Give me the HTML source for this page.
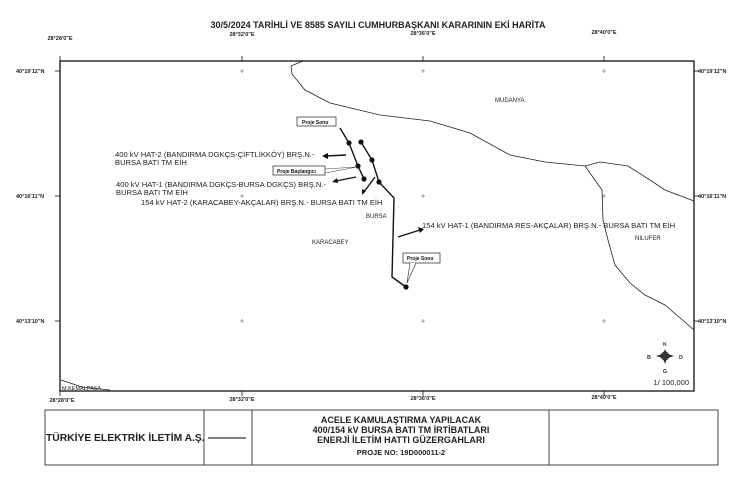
<!DOCTYPE html>
<html><head><meta charset="utf-8"><style>
body{margin:0;background:#fff;}
svg{display:block;font-family:"Liberation Sans",sans-serif;}
</style></head><body>
<svg width="750" height="478" viewBox="0 0 750 478" xmlns="http://www.w3.org/2000/svg">
<rect width="750" height="478" fill="#fff"/>
<text x="378" y="28" font-size="9" font-weight="bold" text-anchor="middle" fill="#222">30/5/2024 TARİHLİ VE 8585 SAYILI CUMHURBAŞKANI KARARININ EKİ HARİTA</text>
<g font-size="5.5" fill="#222" font-weight="bold" text-anchor="middle">
<text x="60" y="40">28°28'0"E</text><text x="242" y="36">28°32'0"E</text><text x="423" y="35">28°36'0"E</text><text x="604" y="34">28°40'0"E</text>
<text x="62" y="402">28°28'0"E</text><text x="242" y="401">28°32'0"E</text><text x="423" y="400">28°36'0"E</text><text x="604" y="399">28°40'0"E</text>
</g>
<g font-size="5.5" fill="#222" font-weight="bold">
<text x="16" y="73">40°19'12"N</text><text x="16" y="198">40°16'11"N</text><text x="16" y="323">40°13'10"N</text>
<text x="698" y="73">40°19'12"N</text><text x="698" y="198">40°16'11"N</text><text x="698" y="323">40°13'10"N</text>
</g>
<rect x="60" y="61" width="634" height="330" fill="none" stroke="#111" stroke-width="1.3"/>
<g stroke="#111" stroke-width="0.8">
<line x1="60" y1="56" x2="60" y2="61"/><line x1="242" y1="56" x2="242" y2="61"/><line x1="423" y1="56" x2="423" y2="61"/><line x1="604" y1="56" x2="604" y2="61"/>
<line x1="60" y1="391" x2="60" y2="396"/><line x1="242" y1="391" x2="242" y2="396"/><line x1="423" y1="391" x2="423" y2="396"/><line x1="604" y1="391" x2="604" y2="396"/>
<line x1="55" y1="71" x2="60" y2="71"/><line x1="55" y1="196" x2="60" y2="196"/><line x1="55" y1="321" x2="60" y2="321"/>
<line x1="694" y1="71" x2="699" y2="71"/><line x1="694" y1="196" x2="699" y2="196"/><line x1="694" y1="321" x2="699" y2="321"/>
</g>
<g stroke="#666" stroke-width="0.6">
<path d="M240 71h4M242 69v4M421 71h4M423 69v4M602 71h4M604 69v4M240 196h4M242 194v4M421 196h4M423 194v4M602 196h4M604 194v4M240 321h4M242 319v4M421 321h4M423 319v4M602 321h4M604 319v4"/>
</g>
<g fill="none" stroke="#222" stroke-width="0.8">
<path d="M303 61 L291 66 L292 74 L305 90 L330 103 L380 115 L430 121 L470 133 L510 155 L545 162 L585 166 L600 162 L628 166 L650 180 L665 190 L694 201"/>
<path d="M585 166 L602 190 L603 220 L608 240 L615 265 L630 283 L645 295 L665 305 L694 330"/>
<path d="M61 380 L82 387 L110 390"/>
</g>
<g font-size="6" fill="#222">
<text x="495" y="102">MUDANYA</text>
<text x="366" y="218">BURSA</text>
<text x="312" y="244">KARACABEY</text>
<text x="635" y="240">NILUFER</text>
<text x="62" y="390" font-size="5.5">M.KEMALPAŞA</text>
</g>
<g font-size="7.6" fill="#222">
<text x="115" y="157">400 kV HAT-2 (BANDIRMA DGKÇS-ÇİFTLİKKÖY) BRŞ.N.-</text>
<text x="115" y="165">BURSA BATI TM EİH</text>
<text x="116" y="187">400 kV HAT-1 (BANDIRMA DGKÇS-BURSA DGKÇS) BRŞ.N.-</text>
<text x="116" y="195">BURSA BATI TM EİH</text>
<text x="141" y="205">154 kV HAT-2 (KARACABEY-AKÇALAR) BRŞ.N.- BURSA BATI TM EİH</text>
<text x="422" y="228">154 kV HAT-1 (BANDIRMA RES-AKÇALAR) BRŞ.N.- BURSA BATI TM EİH</text>
</g>
<g stroke="#111" stroke-width="1.4" fill="none">
<path d="M340 128 L349 143 L358 166 L364 179"/>
<path d="M361 142 L372 160 L379 182 L394 198 L392 277 L406 287"/>
<path d="M346 155 L326 156"/><path d="M356 177 L336 181"/><path d="M375 177 L364 192"/><path d="M398 237 L420 230"/>
</g>
<g fill="#111">
<path d="M322 156 L328 153 L328 159Z"/><path d="M332 182 L337 178 L338 183Z"/><path d="M362 195 L362 189 L366 191Z"/><path d="M424 229 L418 227 L420 233Z"/>
<circle cx="349" cy="143" r="2.6"/><circle cx="358" cy="166" r="2.6"/><circle cx="364" cy="179" r="2.6"/>
<circle cx="361" cy="142" r="2.6"/><circle cx="372" cy="160" r="2.6"/><circle cx="379" cy="182" r="2.6"/><circle cx="406" cy="287" r="2.6"/>
</g>
<g font-size="5" font-weight="bold" fill="#111">
<rect x="297" y="117" width="39" height="9" fill="#fff" stroke="#222" stroke-width="0.7"/><text x="302" y="124">Proje Sonu</text>
<rect x="273" y="166" width="52" height="9" fill="#fff" stroke="#222" stroke-width="0.7"/><text x="277" y="173">Proje Başlangıcı</text>
<path d="M325 169 L357 167 L325 173" fill="none" stroke="#444" stroke-width="0.6"/>
<rect x="403" y="253" width="37" height="10" fill="#fff" stroke="#222" stroke-width="0.7"/><text x="407" y="260">Proje Sonu</text>
<path d="M410 263 L407 283 L416 263" fill="#fff" stroke="#222" stroke-width="0.6"/>
</g>
<g fill="#333" font-size="5.5" font-weight="bold" text-anchor="middle">
<text x="665" y="346">K</text><text x="649" y="359">B</text><text x="681" y="359">D</text><text x="665" y="373">G</text>
<path d="M665 349 L668 356 L665 364 L662 356Z M656 356 L665 353 L674 356 L665 359Z"/>
<circle cx="665" cy="356" r="4" fill="none" stroke="#333"/>
</g>
<text x="689" y="385" font-size="7.5" fill="#222" text-anchor="end">1/ 100,000</text>
<g stroke="#333" stroke-width="0.9" fill="none">
<rect x="45" y="410" width="673" height="55"/>
<line x1="204" y1="410" x2="204" y2="465"/><line x1="252" y1="410" x2="252" y2="465"/><line x1="549" y1="410" x2="549" y2="465"/>
<line x1="208" y1="438" x2="246" y2="438" stroke-width="1.3"/>
</g>
<text x="46" y="441" font-size="10.3" font-weight="bold" fill="#222">TÜRKİYE ELEKTRİK İLETİM A.Ş.</text>
<g font-size="9" font-weight="bold" fill="#222" text-anchor="middle">
<text x="401" y="423">ACELE KAMULAŞTIRMA YAPILACAK</text>
<text x="401" y="433">400/154 kV BURSA BATI TM İRTİBATLARI</text>
<text x="401" y="443">ENERJİ İLETİM HATTI GÜZERGAHLARI</text>
<text x="401" y="455" font-size="7.5">PROJE NO: 19D000011-2</text>
</g>
</svg>
</body></html>
